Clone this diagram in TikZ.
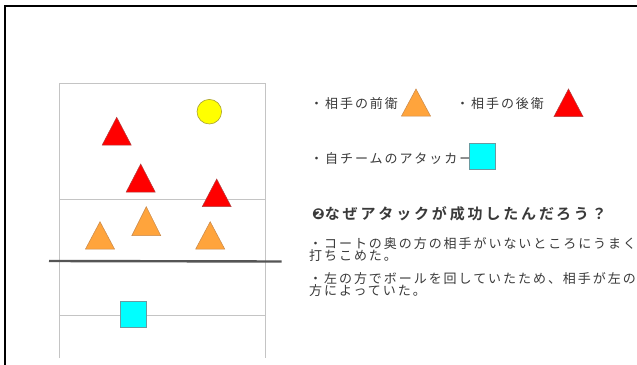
\documentclass[tikz,border=0pt]{standalone}
\usepackage{fontspec}
\newfontfamily\jp[LetterSpace=15]{Noto Sans CJK JP}
\newfontfamily\jpb[LetterSpace=19]{Noto Sans CJK JP Bold}
\newfontfamily\dejab{DejaVu Sans Bold}
\definecolor{txt}{HTML}{3A3A3A}
\definecolor{orng}{HTML}{FFA43C}
\definecolor{orngb}{HTML}{C8884A}
\definecolor{redb}{HTML}{B04040}
\definecolor{redf}{HTML}{FF0000}
\definecolor{courtl}{HTML}{C4C4C4}
\definecolor{netc}{HTML}{555555}
\definecolor{cyanf}{HTML}{00FFFF}
\definecolor{cyanb}{HTML}{6A9AA0}
\definecolor{yelf}{HTML}{FFFF00}
\definecolor{yelb}{HTML}{A8A030}
\tikzset{
  courtline/.style={draw=courtl, line width=1pt},
  netline/.style={draw=netc, line width=2.4pt},
  fronttri/.style={fill=orng, draw=orngb, line width=0.5pt},
  backtri/.style={fill=redf, draw=redb, line width=0.5pt},
  attacker/.style={fill=cyanf, draw=cyanb, line width=0.6pt},
  ballc/.style={fill=yelf, draw=yelb, line width=0.6pt},
  bodytext/.style={anchor=base west, inner sep=0pt, text=txt, font=\jp\fontsize{13}{13}\selectfont},
  titletext/.style={anchor=base west, inner sep=0pt, text=txt, font=\jpb\fontsize{15}{15}\selectfont},
}
\newcommand\mytri[4]{% style, apex x, apex y, base y
  \path[#1] (#2,#3) -- ({#2-14.5},#4) -- ({#2+14.5},#4) -- cycle;}
\begin{document}
\begin{tikzpicture}[x=1pt,y=-1pt]
\useasboundingbox (0,0) rectangle (637,364);
\fill[white] (0,0) rectangle (637,364);
% outer frame (cut by picture edge)
\draw[black, line width=2pt] (5,370) -- (5,6) -- (645,6);
% court
\draw[courtline] (59,358) -- (59,83) -- (265,83) -- (265,358);
\draw[courtline] (59,199) -- (265,199);
\draw[courtline] (59,315.5) -- (265,315.5);
\draw[netline] (49,261) -- (281.5,261.5);
% ball
\path[ballc] (209.3,111.7) circle (12.3);
% back players (red)
\mytri{backtri}{116.7}{117.3}{145}
\mytri{backtri}{140.7}{164}{192}
\mytri{backtri}{216.7}{179}{206.7}
% front players (orange)
\mytri{fronttri}{100}{221.7}{249}
\mytri{fronttri}{146.3}{206.7}{235.7}
\mytri{fronttri}{210.2}{221.7}{249}
% attacker
\path[attacker] (120.3,301) rectangle (146.7,327.7);
% legend
\node[bodytext] (lg1) at (310,108.3) {・相手の前衛};
\mytri{fronttri}{416}{89}{116}
\node[bodytext] (lg2) at (456,108.3) {・相手の後衛};
\mytri{backtri}{568.5}{89}{116.5}
\node[bodytext] (lg3) at (310,163.3) {・自チームのアタッカー};
\path[attacker] (469.3,143.3) rectangle (495,169.3);
% title and text
\node[titletext] (title) at (312,219) {{\dejab\fontsize{15}{15}\selectfont ❷}なぜアタックが成功したんだろう？};
\node[bodytext] (p1a) at (309,248.3) {・コートの奥の方の相手がいないところにうまく};
\node[bodytext] (p1b) at (309,260.7) {打ちこめた。};
\node[bodytext] (p2a) at (309,283.3) {・左の方でボールを回していたため、相手が左の};
\node[bodytext] (p2b) at (309,295) {方によっていた。};
\end{tikzpicture}
\end{document}
